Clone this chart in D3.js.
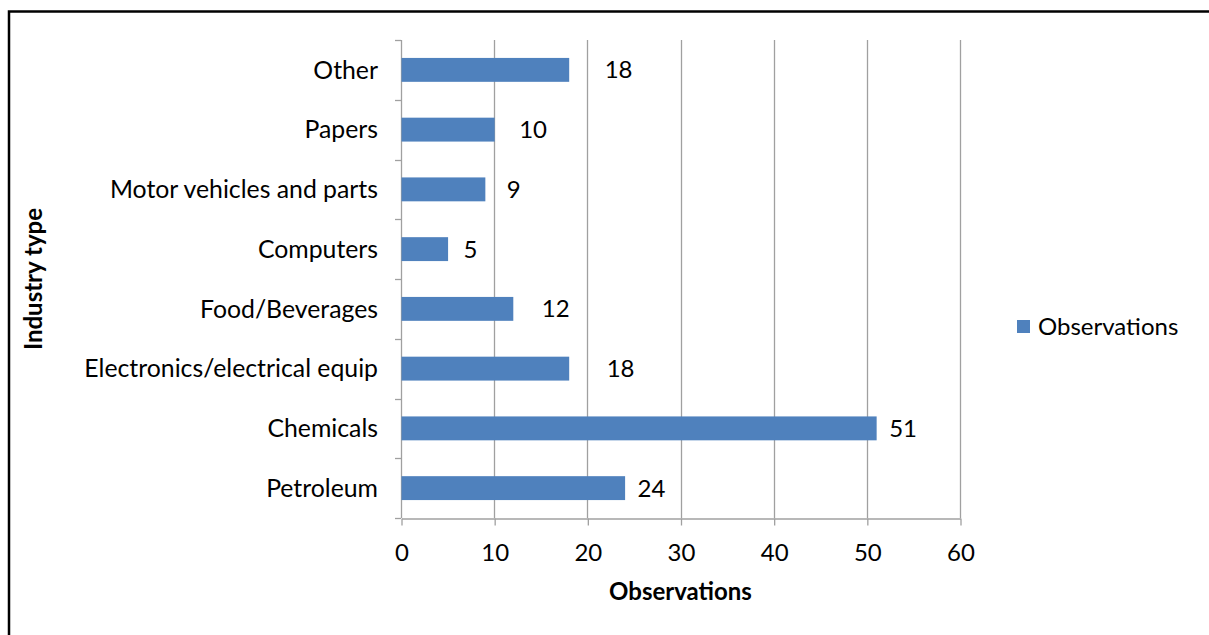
<!DOCTYPE html>
<html>
<head>
<meta charset="utf-8">
<script src="https://cdn.jsdelivr.net/npm/d3@7"></script>
<style>
  html, body { margin: 0; padding: 0; background: #fff; }
  svg { display: block; }
  text { font-family: Lato, "Open Sans", sans-serif; fill: #000; }
</style>
</head>
<body>
<svg id="chart" width="1209" height="635"></svg>
<script>
// Industry categories, top to bottom as drawn
const categories = [
  "Other",
  "Papers",
  "Motor vehicles and parts",
  "Computers",
  "Food/Beverages",
  "Electronics/electrical equip",
  "Chemicals",
  "Petroleum"
];
// Number of observations per industry
const observations = [18, 10, 9, 5, 12, 18, 51, 24];
// Value axis ticks
const xTicks = [0, 10, 20, 30, 40, 50, 60];
const seriesName = "Observations";
const xTitle = "Observations";
const yTitle = "Industry type";

// Horizontal nudge (px) of each value label beyond its bar end
const labelGap = [36, 25, 22, 16, 29, 38, 13, 13];

const svg = d3.select("#chart");
const W = 1209, H = 635;
const plot = { left: 401, right: 960, top: 40, bottom: 518 };
const barColor = "#4F81BD";
const gridColor = "#A0A0A0";
const fontSize = 24;
const catFontSize = 24.8;

// Outer frame
svg.append("rect")
  .attr("x", 9).attr("y", 11.5)
  .attr("width", W + 10).attr("height", H + 10)
  .attr("fill", "none").attr("stroke", "#000").attr("stroke-width", 2.5);

const x = d3.scaleLinear().domain([0, 60]).range([plot.left, plot.right]);
const y = d3.scaleBand().domain(categories)
  .range([plot.top, plot.bottom])
  .paddingInner(0.6).paddingOuter(0.3);

// Vertical gridlines
svg.append("g").selectAll("line").data(xTicks.slice(1)).join("line")
  .attr("x1", d => Math.round(x(d)) + 0.5).attr("x2", d => Math.round(x(d)) + 0.5)
  .attr("y1", plot.top).attr("y2", plot.bottom)
  .attr("stroke", gridColor).attr("stroke-width", 1.3);

// Category axis (left) with tick marks at band boundaries
const step = y.step();
const boundaries = d3.range(categories.length + 1).map(i => plot.top + i * step);
const yAxisG = svg.append("g");
yAxisG.append("line")
  .attr("x1", plot.left + 0.5).attr("x2", plot.left + 0.5)
  .attr("y1", plot.top).attr("y2", plot.bottom)
  .attr("stroke", gridColor).attr("stroke-width", 1.3);
yAxisG.selectAll("line.tk").data(boundaries).join("line").attr("class", "tk")
  .attr("x1", plot.left - 6).attr("x2", plot.left)
  .attr("y1", d => Math.round(d) + 0.5).attr("y2", d => Math.round(d) + 0.5)
  .attr("stroke", gridColor).attr("stroke-width", 1.3);
yAxisG.selectAll("text").data(categories).join("text")
  .attr("x", plot.left - 23)
  .attr("y", d => y(d) + y.bandwidth() / 2)
  .attr("dy", "0.35em")
  .attr("text-anchor", "end")
  .attr("font-size", catFontSize)
  .text(d => d);

// Value axis (bottom)
const xAxis = d3.axisBottom(x).tickValues(xTicks).tickSize(7).tickPadding(18).tickSizeOuter(0);
const xAxisG = svg.append("g")
  .attr("transform", `translate(0.5,${plot.bottom + 0.5})`)
  .call(xAxis);
xAxisG.select(".domain").attr("stroke", gridColor).attr("stroke-width", 1.3);
xAxisG.selectAll(".tick line").attr("stroke", gridColor).attr("stroke-width", 1.3);
xAxisG.selectAll(".tick text")
  .attr("font-size", fontSize)
  .attr("font-family", "Lato, 'Open Sans', sans-serif")
  .attr("fill", "#000");

// Bars
svg.append("g").selectAll("rect").data(categories).join("rect")
  .attr("x", x(0) + 0.5)
  .attr("y", d => y(d))
  .attr("width", (d, i) => x(observations[i]) - x(0))
  .attr("height", y.bandwidth())
  .attr("fill", barColor);

// Value labels
svg.append("g").selectAll("text").data(categories).join("text")
  .attr("x", (d, i) => x(observations[i]) + labelGap[i])
  .attr("y", d => y(d) + y.bandwidth() / 2)
  .attr("dy", "0.35em")
  .attr("font-size", fontSize)
  .text((d, i) => observations[i]);

// Axis titles
svg.append("text")
  .attr("x", (plot.left + plot.right) / 2)
  .attr("y", 600)
  .attr("text-anchor", "middle")
  .attr("font-size", fontSize)
  .attr("font-weight", "bold")
  .text(xTitle);

svg.append("text")
  .attr("transform", `translate(42,${(plot.top + plot.bottom) / 2}) rotate(-90)`)
  .attr("text-anchor", "middle")
  .attr("font-size", fontSize)
  .attr("font-weight", "bold")
  .text(yTitle);

// Legend
const legend = svg.append("g").attr("transform", "translate(1017,320)");
legend.append("rect").attr("width", 13).attr("height", 13).attr("fill", barColor);
legend.append("text")
  .attr("x", 21).attr("y", 6.5).attr("dy", "0.35em")
  .attr("font-size", fontSize)
  .text(seriesName);
</script>
</body>
</html>
